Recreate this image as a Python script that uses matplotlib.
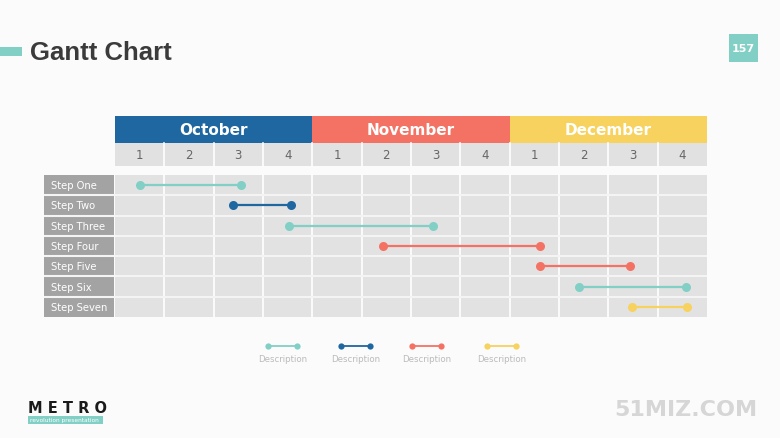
import matplotlib
matplotlib.use("Agg")
import matplotlib.pyplot as plt
from matplotlib.patches import Rectangle

# ---- data ----
months = ["October", "November", "December"]
month_colors = ["#1F67A1", "#F47264", "#F7D25E"]
weeks = ["1", "2", "3", "4"]
steps = ["Step One", "Step Two", "Step Three", "Step Four", "Step Five", "Step Six", "Step Seven"]
starts = [0.5, 2.4, 3.53, 5.44, 8.62, 9.41, 10.47]
ends = [2.55, 3.56, 6.45, 8.62, 10.43, 11.58, 11.59]
step_colors = ["#82CFC6", "#1F67A1", "#82CFC6", "#F47264", "#F47264", "#82CFC6", "#F7D25E"]
legend_colors = ["#82CFC6", "#1F67A1", "#F47264", "#F7D25E"]
legend_labels = ["Description", "Description", "Description", "Description"]

W, H = 780, 439
fig = plt.figure(figsize=(W / 100, H / 100), dpi=100)
fig.patch.set_facecolor("#FBFBFB")

# background pixel axes
bg = fig.add_axes([0, 0, 1, 1])
bg.set_xlim(0, W)
bg.set_ylim(H, 0)
bg.axis("off")

# title
bg.add_patch(Rectangle((0, 48), 22, 9, color="#82CFC6", lw=0))
bg.text(30, 53, "Gantt Chart", fontsize=18.5, fontweight="bold", color="#3B3B3B",
        va="center", ha="left", family="Liberation Sans")
bg.add_patch(Rectangle((729, 35), 29, 28, color="#82CFC6", lw=0))
bg.text(743.5, 49, "157", fontsize=8, fontweight="bold", color="white", ha="center", va="center")

# footer
bg.text(28, 409, "M E T R O", fontsize=10.5, fontweight="bold", color="#1A1A1A", ha="left", va="center",
        family="DejaVu Sans")
bg.add_patch(Rectangle((28, 417), 75, 8, color="#82CFC6", lw=0))
bg.text(30, 421, "revolution presentation", fontsize=4.2, color="white", ha="left", va="center")
bg.text(686, 410, "51MIZ.COM", fontsize=16, fontweight="bold", color="#D6D6D6", ha="center", va="center")

# gantt axes: pixel box x 44..707, y 117..318
x0p, x1p, y0p, y1p = 44, 707, 117, 318
ax = fig.add_axes([x0p / W, 1 - y1p / H, (x1p - x0p) / W, (y1p - y0p) / H])
pxw = (707 - 115) / 12.0
pxr = (318 - 176) / 7.0
ax.set_xlim(-(115 - 44) / pxw, 12)
ax.set_ylim(7, -(176 - 117) / pxr)
ax.axis("off")

m_top = -(176 - 117) / pxr
m_bot = -(176 - 144) / pxr
w_bot = -(176 - 167) / pxr

# month headers
for i, (m, c) in enumerate(zip(months, month_colors)):
    ax.add_patch(Rectangle((i * 4, m_top), 4, m_bot - m_top, color=c, lw=0))
    ax.text(i * 4 + 2, (m_top + m_bot) / 2, m, color="white", fontsize=11, fontweight="bold",
            ha="center", va="center")
# week row
ax.add_patch(Rectangle((0, m_bot), 12, w_bot - m_bot, color="#E1E1E1", lw=0))
for i in range(12):
    ax.text(i + 0.5, (m_bot + w_bot) / 2, weeks[i % 4], color="#666666", fontsize=8.5,
            ha="center", va="center")
for i in range(1, 12):
    ax.plot([i, i], [m_bot, w_bot], color="white", lw=1.2)

# body
ax.add_patch(Rectangle((0, 0), 12, 7, color="#E2E2E2", lw=0))
ax.add_patch(Rectangle((ax.get_xlim()[0], 0), -ax.get_xlim()[0] - 0.02, 7, color="#A3A3A3", lw=0))
for i in range(1, 12):
    ax.plot([i, i], [0, 7], color="white", lw=1.2)
for j in range(1, 7):
    ax.plot([ax.get_xlim()[0], 12], [j, j], color="#F4F4F4", lw=1.5)
for j, s in enumerate(steps):
    ax.text(ax.get_xlim()[0] + 0.14, j + 0.5, s, color="white", fontsize=7.2, ha="left", va="center")

# bars
for j, (s, e, c) in enumerate(zip(starts, ends, step_colors)):
    ax.plot([s, e], [j + 0.5, j + 0.5], color=c, lw=1.6, marker="o", markersize=6.5,
            markeredgewidth=0, solid_capstyle="butt")

# legend
lx = [268, 341, 412, 487]
for x, c, lab in zip(lx, legend_colors, legend_labels):
    bg.plot([x, x + 29], [347, 347], color=c, lw=1.3, marker="o", markersize=4.5, markeredgewidth=0)
    bg.text(x + 14.5, 360, lab, fontsize=6.2, color="#BBBBBB", ha="center", va="center")

fig.savefig("out.png", dpi=100, facecolor=fig.get_facecolor())
